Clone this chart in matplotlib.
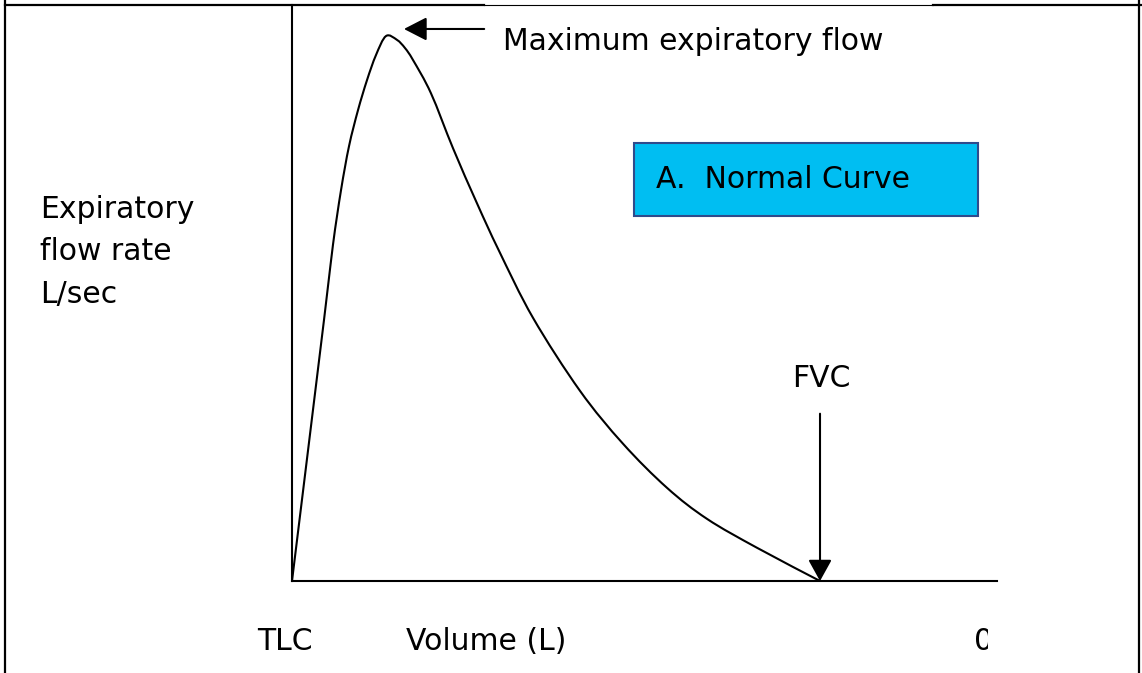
import numpy as np
import matplotlib.pyplot as plt
from matplotlib.patches import Rectangle, PathPatch
from matplotlib.path import Path
from matplotlib.lines import Line2D
from matplotlib.transforms import Bbox, TransformedBbox

# %% Data (volume from TLC [L], expiratory flow [L/s])
volume = [0.0, 0.303, 0.388, 0.464, 0.540, 0.625, 0.710, 0.795, 0.890,
          0.994, 1.070, 1.146, 1.316, 1.525, 1.752, 1.960, 2.282, 2.727,
          3.134, 3.551, 3.930, 4.403, 5.0]
flow = [0.0, 4.79, 6.17, 7.17, 7.98, 8.64, 9.19, 9.65, 10.0,
        9.93, 9.78, 9.56, 8.95, 7.94, 6.93, 6.06, 4.83, 3.49,
        2.52, 1.71, 1.14, 0.61, 0.0]
fvc = 5.0
vol_max = 6.676
flow_max = 10.57

W, H = 1142, 673
BLUE_FILL = '#00BEF2'
BLUE_EDGE = '#2F4B8C'
FS = 21.5


def fx(px):
    return px/W


def fy(py):
    return 1 - py/H


def smooth_path(x, y):
    # cubic Bezier segments through the read points (Catmull-Rom tangents)
    pts = np.column_stack([x, y])
    n = len(pts)
    verts = [pts[0]]
    codes = [Path.MOVETO]
    for i in range(n-1):
        p0 = pts[max(i-1, 0)]
        p1 = pts[i]
        p2 = pts[i+1]
        p3 = pts[min(i+2, n-1)]
        verts += [p1 + (p2-p0)/6, p2 - (p3-p1)/6, p2]
        codes += [Path.CURVE4]*3
    return Path(verts, codes)


fig = plt.figure(figsize=(W/100, H/100), dpi=100)
fig.patch.set_facecolor('white')

# page/table borders
fig.add_artist(Line2D([fx(5), fx(5)], [fy(0), fy(673)], color='black', lw=1.6))
fig.add_artist(Line2D([fx(1139), fx(1139)], [fy(0), fy(673)], color='black', lw=1.6))
fig.add_artist(Line2D([fx(5), fx(484)], [fy(5), fy(5)], color='black', lw=1.6))
fig.add_artist(Line2D([fx(484), fx(933)], [fy(4.5), fy(4.5)], color='black', lw=0.8))
fig.add_artist(Line2D([fx(933), fx(1142)], [fy(5), fy(5)], color='black', lw=1.6))

# %% main axes
ax = fig.add_axes([fx(292), 1 - 581/H, (997-292)/W, (581-5)/H])
ax.add_patch(PathPatch(smooth_path(volume, flow), facecolor='none', edgecolor='black',
                       lw=1.5, joinstyle='round'))
ax.set_xlim(0, vol_max)
ax.set_ylim(0, flow_max)
ax.set_xticks([])
ax.set_yticks([])
for s in ['top', 'right']:
    ax.spines[s].set_visible(False)
for s in ['left', 'bottom']:
    ax.spines[s].set_linewidth(1.5)
ax.patch.set_alpha(0)

ipk = int(np.argmax(flow))
ax.annotate('', xy=(volume[ipk]+0.17, flow[ipk]+0.13), xytext=(volume[ipk]+0.93, flow[ipk]+0.13),
            arrowprops=dict(arrowstyle='-|>,head_length=1.4,head_width=0.72', color='black',
                            lw=1.5, mutation_scale=10, shrinkA=0, shrinkB=0))
ax.text(volume[ipk]+1.105, 9.74, 'Maximum expiratory flow', fontsize=FS,
        va='baseline', ha='left')

ax.annotate('', xy=(fvc, 0), xytext=(fvc, 3.07),
            arrowprops=dict(arrowstyle='-|>,head_length=1.3,head_width=0.72', color='black',
                            lw=1.5, mutation_scale=10, shrinkA=0, shrinkB=0))
ax.text(fvc+0.01, 3.56, 'FVC', fontsize=FS, ha='center', va='baseline')

# legend-like box
ax.add_patch(Rectangle((3.239, 6.70), 3.257, 1.34, facecolor=BLUE_FILL,
                       edgecolor=BLUE_EDGE, lw=1.5, clip_on=False))
ax.text(3.45, 7.21, 'A.  Normal Curve', fontsize=FS, ha='left', va='baseline')

# %% labels outside the axes
ylab_lines = ['Expiratory', 'flow rate', 'L/sec']
for k, line in enumerate(ylab_lines):
    fig.text(fx(40), fy(218 + 42.5*k), line, fontsize=FS, ha='left', va='baseline')
fig.text(fx(285), fy(650), 'TLC', fontsize=FS, ha='center', va='baseline')
fig.text(fx(486), fy(650), 'Volume (L)', fontsize=FS, ha='center', va='baseline')
t0 = fig.text(fx(974), fy(650), '0', fontsize=FS, ha='left', va='baseline')
t0.set_clip_box(TransformedBbox(Bbox([[0, 0], [fx(988), 1]]), fig.transFigure))
t0.set_clip_on(True)

fig.savefig('out.png', dpi=100, facecolor='white')
